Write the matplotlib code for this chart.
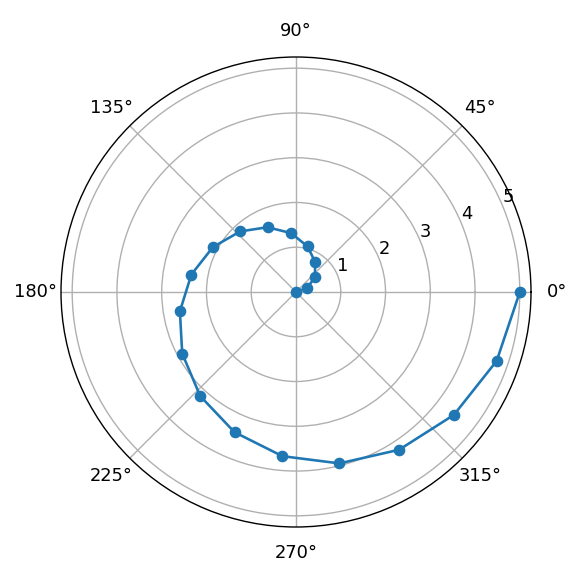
import numpy as np
import matplotlib
matplotlib.use("Agg")
import matplotlib.pyplot as plt

# Spiral points (angle in degrees, radius)
theta_deg = [0.0, 18.95, 37.89, 56.84, 75.79, 94.74, 113.68, 132.63, 151.58, 170.53,
             189.47, 208.42, 227.37, 246.32, 265.26, 284.21, 303.16, 322.11, 341.05, 360.0]
radius = [0.0, 0.26, 0.53, 0.79, 1.05, 1.32, 1.58, 1.84, 2.11, 2.37,
          2.63, 2.89, 3.16, 3.42, 3.68, 3.95, 4.21, 4.47, 4.74, 5.0]
r_ticks = [1, 2, 3, 4, 5]

s = 1.25
plt.rcParams.update({
    "font.size": 10.3 * s,
    "grid.linewidth": 0.8 * s,
    "axes.linewidth": 0.8 * s,
})

fig = plt.figure(figsize=(5.82, 5.78), dpi=100)
ax = fig.add_axes([61 / 582, (578 - 292 - 235) / 578, 470 / 582, 470 / 578], projection="polar")
ax.plot(np.deg2rad(theta_deg), radius, marker="o", color="#1f77b4",
        linewidth=1.5 * s, markersize=5.9 * s)
ax.set_rticks(r_ticks)
ax.tick_params(axis="x", pad=8)
ax.grid(True)
fig.savefig("out.png", dpi=100)
